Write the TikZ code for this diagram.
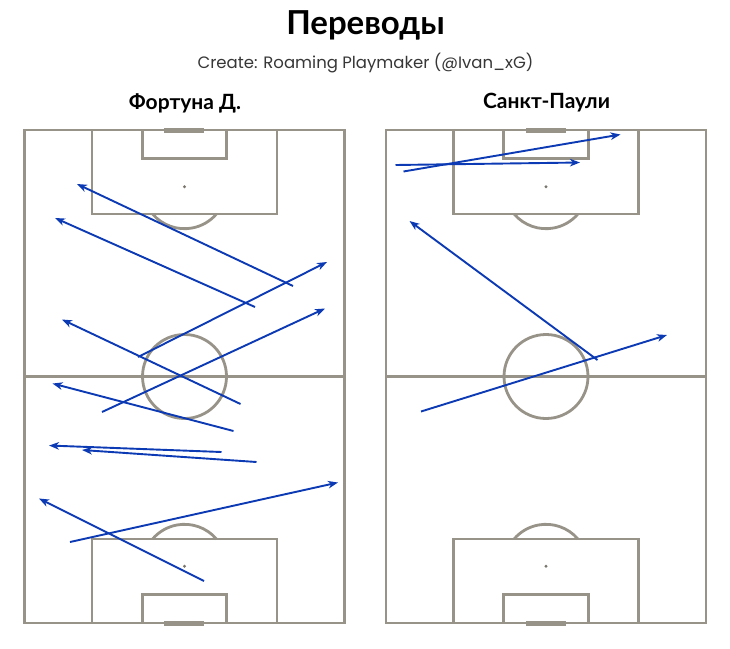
\documentclass[tikz,border=0pt]{standalone}
\usepackage{fontspec}
\setmainfont{Lato}
\newfontfamily\subfont{Poppins}
\usetikzlibrary{arrows.meta}
\definecolor{pitchgray}{RGB}{152,147,137}
\definecolor{passblue}{RGB}{12,58,180}
\definecolor{subgray}{RGB}{55,55,55}
\tikzset{
  pline/.style={draw=pitchgray, line width=2.8pt},
  pass/.style={draw=passblue, line width=1.9pt, -{Stealth[length=10pt,width=7.5pt,inset=3pt]}},
  pitch/.pic={
    \draw[pline] (0,0) rectangle (320,493);
    \draw[pline] (0,246.5) -- (320,246.5);
    \draw[pline] (160,246.5) circle[radius=42pt];
    \draw[pline] (67.5,0) rectangle (252.5,84);
    \draw[pline] (117.8,0) rectangle (202.2,28.6);
    \draw[pline] (67.5,493) rectangle (252.5,409);
    \draw[pline] (117.8,493) rectangle (202.2,464.4);
    \fill[pitchgray!80!black] (160,56.7) circle[radius=1.6pt];
    \fill[pitchgray!80!black] (160,436.3) circle[radius=1.6pt];
    \draw[pline] ([shift={(220.5:42pt)}]160,56.7) arc[start angle=220.5, end angle=319.5, radius=42pt];
    \draw[pline] ([shift={(40.5:42pt)}]160,436.3) arc[start angle=40.5, end angle=139.5, radius=42pt];
    \fill[pitchgray] (139.5,-2.2) rectangle (179.5,3.3);
    \fill[pitchgray] (139.5,490.7) rectangle (179.5,496.2);
  }
}
\begin{document}
\begin{tikzpicture}[x=1pt,y=-1pt]
\useasboundingbox (0,0) rectangle (730,648);
\fill[white] (0,0) rectangle (730,648);
\pic (lp) at (24.5,130) {pitch};
\pic (rp) at (386,130) {pitch};

\node[font=\bfseries\fontsize{33}{38}\selectfont, text=black] (title) at (365.5,25) {Переводы};
\node[font=\subfont\fontsize{16.5}{20}\selectfont, text=subgray] (sub) at (365.5,63) {Create: Roaming Playmaker (@Ivan\_xG)};
\node[font=\bfseries\fontsize{21}{25}\selectfont] (tl) at (185,103) {Фортуна Д.};
\node[font=\bfseries\fontsize{21}{25}\selectfont] (tr) at (546.5,103) {Санкт-Паули};

% left pitch passes
\coordinate (l1s) at (293,286); \coordinate (l1e) at (77,184);
\coordinate (l2s) at (255,307); \coordinate (l2e) at (55,218);
\coordinate (l3s) at (138,357); \coordinate (l3e) at (327,262);
\coordinate (l4s) at (102,412); \coordinate (l4e) at (325,308.5);
\coordinate (l5s) at (240.5,404); \coordinate (l5e) at (62,319.5);
\coordinate (l6s) at (233.5,431); \coordinate (l6e) at (52.5,383.5);
\coordinate (l7s) at (221.5,452); \coordinate (l7e) at (49,445.5);
\coordinate (l8s) at (256.5,462); \coordinate (l8e) at (82,450);
\coordinate (l9s) at (70,542); \coordinate (l9e) at (338,482.5);
\coordinate (l10s) at (204,581); \coordinate (l10e) at (39,498.5);
\foreach \i in {1,...,10} \draw[pass] (l\i s) -- (l\i e);

% right pitch passes
\coordinate (r1s) at (403.5,171.5); \coordinate (r1e) at (620.5,134.5);
\coordinate (r2s) at (395.5,165); \coordinate (r2e) at (580,162.5);
\coordinate (r3s) at (597.5,360); \coordinate (r3e) at (409.5,221);
\coordinate (r4s) at (421,411.5); \coordinate (r4e) at (667,335);
\foreach \i in {1,...,4} \draw[pass] (r\i s) -- (r\i e);
\end{tikzpicture}
\end{document}
